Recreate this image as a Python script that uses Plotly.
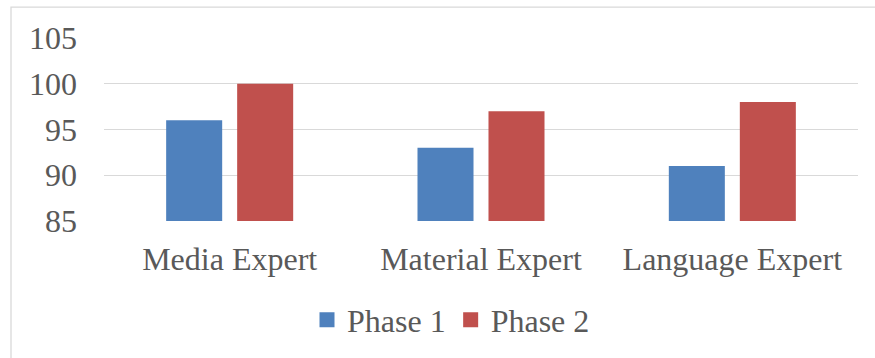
import plotly.graph_objects as go

categories = ["Media Expert", "Material Expert", "Language Expert"]
phase1 = [96, 93, 91]
phase2 = [100, 97, 98]
series_names = ["Phase 1", "Phase 2"]
colors = ["#4f81bd", "#c0504d"]
y_ticks = [85, 90, 95, 100, 105]

W, H = 875, 358
L, R, T, B = 104, 17, 38, 136
pw = W - L - R
ph = H - T - B

font = dict(family="Liberation Serif", size=32, color="#595959")

fig = go.Figure()
for name, vals, c in zip(series_names, [phase1, phase2], colors):
    fig.add_trace(go.Bar(x=categories, y=vals, name=name, marker=dict(color=c, line=dict(width=0)),
                         showlegend=False))
for name, c in zip(series_names, colors):
    fig.add_trace(go.Scatter(x=[None], y=[None], mode="markers", name=name,
                             marker=dict(symbol="square", size=15, color=c)))

fig.update_layout(
    width=W, height=H,
    margin=dict(l=L, r=R, t=T, b=B),
    paper_bgcolor="white", plot_bgcolor="white",
    font=font,
    barmode="group", bargap=0.435, bargroupgap=0.211,
    showlegend=True,
    legend=dict(orientation="h", x=(307 - L) / pw, xanchor="left",
                y=(T + ph - 320) / ph, yanchor="middle",
                font=font, bgcolor="rgba(0,0,0,0)", itemwidth=30, tracegroupgap=0),
    xaxis=dict(showgrid=False, showline=False, ticks="", tickfont=font, ticklabelstandoff=16,
               fixedrange=True),
    yaxis=dict(range=[85, 105], tickvals=y_ticks, showgrid=True, gridcolor="#d9d9d9", gridwidth=1.3,
               zeroline=False, showline=False, ticks="", tickfont=font, ticklabelstandoff=26),
    shapes=[dict(type="rect", xref="paper", yref="paper",
                 x0=(11 - L) / pw, x1=(W + 20 - L) / pw,
                 y0=(T + ph - (H + 20)) / ph, y1=(T + ph - 7) / ph,
                 line=dict(color="#d9d9d9", width=1.3), fillcolor="rgba(0,0,0,0)", layer="below")],
)

fig.write_html("out.html")
